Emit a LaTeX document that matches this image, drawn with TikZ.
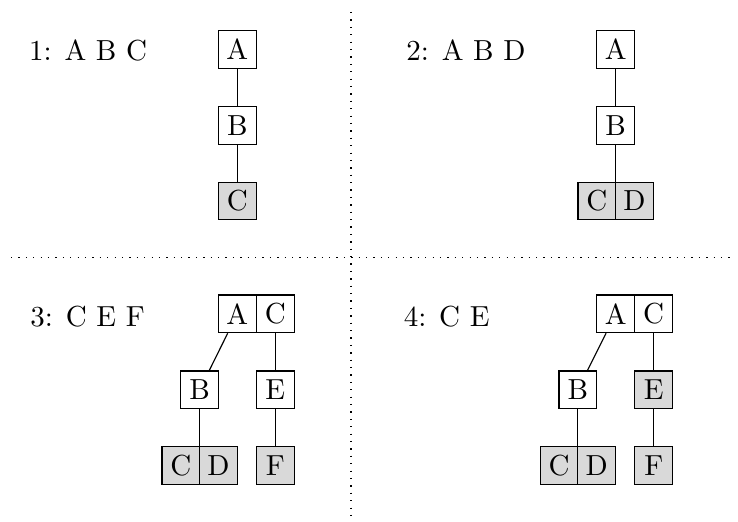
\documentclass[tikz,border=0pt]{standalone}
\begin{document}
\begin{tikzpicture}[
  x=0.3448pt, y=-0.3448pt,
  box/.style={draw, line width=0.4pt, minimum size=13pt, inner sep=0pt},
  hit/.style={box, fill=black!15},
  link/.style={line width=0.4pt},
  sep/.style={line width=0.45pt, dash pattern=on 0.45pt off 2.1pt},
  lbl/.style={anchor=base west, inner sep=0pt}
]
\useasboundingbox (0,0) rectangle (738,521);

% quadrant separators
\coordinate (hl) at (11,257.5);
\coordinate (hr) at (734,257.5);
\coordinate (vt) at (351,12);
\coordinate (vb) at (351,519);
\draw[sep] (hl) -- (hr);
\draw[sep] (vt) -- (vb);

% 1: A B C
\node[lbl] (t1) at (28.5,60.5) {1: A B C};
\node[box] (a1) at (237.3,49.5) {A};
\node[box] (b1) at (237.3,125.3) {B};
\node[hit] (c1) at (237.3,201) {C};
\draw[link] (a1) -- (b1);
\draw[link] (b1) -- (c1);

% 2: A B D
\node[lbl] (t2) at (405.8,60.5) {2: A B D};
\node[box] (a2) at (615.7,49.5) {A};
\node[box] (b2) at (615.7,125.3) {B};
\node[hit] (c2) at (596.85,201) {C};
\node[hit] (d2) at (634.55,201) {D};
\draw[link] (a2) -- (b2);
\draw[link] (b2) -- (b2 |- c2.north);

% 3: C E F
\node[lbl] (t3) at (29.8,326) {3: C E F};
\node[box] (a3) at (237.3,313.8) {A};
\node[box] (ac3) at (275.3,313.8) {C};
\node[box] (b3) at (199.7,389.8) {B};
\node[box] (e3) at (275.3,389.8) {E};
\node[hit] (c3) at (180.85,465.5) {C};
\node[hit] (d3) at (218.55,465.5) {D};
\node[hit] (f3) at (275.3,465.5) {F};
\draw[link] (a3) -- (b3);
\draw[link] (b3) -- (b3 |- c3.north);
\draw[link] (ac3) -- (e3);
\draw[link] (e3) -- (f3);

% 4: C E
\node[lbl] (t4) at (403.2,326) {4: C E};
\node[box] (a4) at (615.7,313.8) {A};
\node[box] (ac4) at (653.7,313.8) {C};
\node[box] (b4) at (577.85,389.8) {B};
\node[hit] (e4) at (653.7,389.8) {E};
\node[hit] (c4) at (559.0,465.5) {C};
\node[hit] (d4) at (596.7,465.5) {D};
\node[hit] (f4) at (653.7,465.5) {F};
\draw[link] (a4) -- (b4);
\draw[link] (b4) -- (b4 |- c4.north);
\draw[link] (ac4) -- (e4);
\draw[link] (e4) -- (f4);
\end{tikzpicture}
\end{document}
